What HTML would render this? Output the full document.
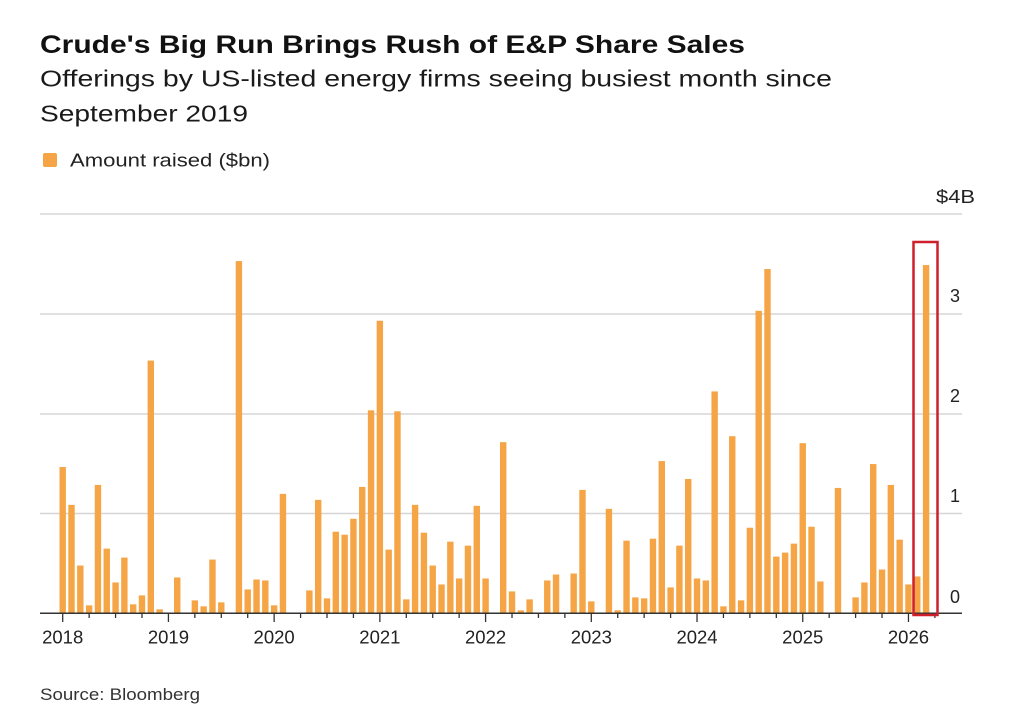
<!DOCTYPE html>
<html><head><meta charset="utf-8"><style>
html,body{margin:0;padding:0;background:#fff;}
svg{display:block;font-family:"Liberation Sans",sans-serif;}
</style></head><body>
<svg width="1024" height="721" viewBox="0 0 1024 721" xmlns="http://www.w3.org/2000/svg">
<text x="40" y="53" font-size="25" font-weight="bold" fill="#111" textLength="705" lengthAdjust="spacingAndGlyphs">Crude's Big Run Brings Rush of E&amp;P Share Sales</text>
<text x="40" y="86.5" font-size="23" fill="#1a1a1a" textLength="792" lengthAdjust="spacingAndGlyphs">Offerings by US-listed energy firms seeing busiest month since</text>
<text x="40" y="121.5" font-size="23" fill="#1a1a1a" textLength="208" lengthAdjust="spacingAndGlyphs">September 2019</text>
<rect x="43" y="153" width="14" height="14" rx="2" fill="#f5a545"/>
<text x="70" y="166.5" font-size="18" fill="#222" textLength="200" lengthAdjust="spacingAndGlyphs">Amount raised ($bn)</text>
<g stroke="#d6d6d6" stroke-width="1.5">
<line x1="40" y1="214" x2="962" y2="214"/>
<line x1="40" y1="314" x2="962" y2="314"/>
<line x1="40" y1="414" x2="962" y2="414"/>
<line x1="40" y1="513.5" x2="962" y2="513.5"/>
</g>
<g font-size="18" fill="#222">
<text x="936" y="203" textLength="39" lengthAdjust="spacingAndGlyphs">$4B</text>
<text x="950" y="302">3</text>
<text x="950" y="402">2</text>
<text x="950" y="502">1</text>
<text x="950" y="603">0</text>
</g>
<g fill="#f5a545" transform="translate(0,613.3) scale(1,-99.5)">
<rect x="59.5" y="0" width="6.4" height="1.47"/>
<rect x="68.31" y="0" width="6.4" height="1.09"/>
<rect x="77.12" y="0" width="6.4" height="0.48"/>
<rect x="85.93" y="0" width="6.4" height="0.08"/>
<rect x="94.74" y="0" width="6.4" height="1.29"/>
<rect x="103.55" y="0" width="6.4" height="0.65"/>
<rect x="112.36" y="0" width="6.4" height="0.31"/>
<rect x="121.17" y="0" width="6.4" height="0.56"/>
<rect x="129.98" y="0" width="6.4" height="0.09"/>
<rect x="138.79" y="0" width="6.4" height="0.18"/>
<rect x="147.6" y="0" width="6.4" height="2.54"/>
<rect x="156.41" y="0" width="6.4" height="0.04"/>
<rect x="174.03" y="0" width="6.4" height="0.36"/>
<rect x="191.65" y="0" width="6.4" height="0.13"/>
<rect x="200.46" y="0" width="6.4" height="0.07"/>
<rect x="209.27" y="0" width="6.4" height="0.54"/>
<rect x="218.08" y="0" width="6.4" height="0.11"/>
<rect x="235.7" y="0" width="6.4" height="3.54"/>
<rect x="244.51" y="0" width="6.4" height="0.24"/>
<rect x="253.32" y="0" width="6.4" height="0.34"/>
<rect x="262.13" y="0" width="6.4" height="0.33"/>
<rect x="270.94" y="0" width="6.4" height="0.08"/>
<rect x="279.75" y="0" width="6.4" height="1.2"/>
<rect x="306.18" y="0" width="6.4" height="0.23"/>
<rect x="314.99" y="0" width="6.4" height="1.14"/>
<rect x="323.8" y="0" width="6.4" height="0.15"/>
<rect x="332.61" y="0" width="6.4" height="0.82"/>
<rect x="341.42" y="0" width="6.4" height="0.79"/>
<rect x="350.23" y="0" width="6.4" height="0.95"/>
<rect x="359.04" y="0" width="6.4" height="1.27"/>
<rect x="367.85" y="0" width="6.4" height="2.04"/>
<rect x="376.66" y="0" width="6.4" height="2.94"/>
<rect x="385.47" y="0" width="6.4" height="0.64"/>
<rect x="394.28" y="0" width="6.4" height="2.03"/>
<rect x="403.09" y="0" width="6.4" height="0.14"/>
<rect x="411.9" y="0" width="6.4" height="1.09"/>
<rect x="420.71" y="0" width="6.4" height="0.81"/>
<rect x="429.52" y="0" width="6.4" height="0.48"/>
<rect x="438.33" y="0" width="6.4" height="0.29"/>
<rect x="447.14" y="0" width="6.4" height="0.72"/>
<rect x="455.95" y="0" width="6.4" height="0.35"/>
<rect x="464.76" y="0" width="6.4" height="0.68"/>
<rect x="473.57" y="0" width="6.4" height="1.08"/>
<rect x="482.38" y="0" width="6.4" height="0.35"/>
<rect x="500" y="0" width="6.4" height="1.72"/>
<rect x="508.81" y="0" width="6.4" height="0.22"/>
<rect x="517.62" y="0" width="6.4" height="0.03"/>
<rect x="526.43" y="0" width="6.4" height="0.14"/>
<rect x="544.05" y="0" width="6.4" height="0.33"/>
<rect x="552.86" y="0" width="6.4" height="0.39"/>
<rect x="570.48" y="0" width="6.4" height="0.4"/>
<rect x="579.29" y="0" width="6.4" height="1.24"/>
<rect x="588.1" y="0" width="6.4" height="0.12"/>
<rect x="605.72" y="0" width="6.4" height="1.05"/>
<rect x="614.53" y="0" width="6.4" height="0.03"/>
<rect x="623.34" y="0" width="6.4" height="0.73"/>
<rect x="632.15" y="0" width="6.4" height="0.16"/>
<rect x="640.96" y="0" width="6.4" height="0.15"/>
<rect x="649.77" y="0" width="6.4" height="0.75"/>
<rect x="658.58" y="0" width="6.4" height="1.53"/>
<rect x="667.39" y="0" width="6.4" height="0.26"/>
<rect x="676.2" y="0" width="6.4" height="0.68"/>
<rect x="685.01" y="0" width="6.4" height="1.35"/>
<rect x="693.82" y="0" width="6.4" height="0.35"/>
<rect x="702.63" y="0" width="6.4" height="0.33"/>
<rect x="711.44" y="0" width="6.4" height="2.23"/>
<rect x="720.25" y="0" width="6.4" height="0.07"/>
<rect x="729.06" y="0" width="6.4" height="1.78"/>
<rect x="737.87" y="0" width="6.4" height="0.13"/>
<rect x="746.68" y="0" width="6.4" height="0.86"/>
<rect x="755.49" y="0" width="6.4" height="3.04"/>
<rect x="764.3" y="0" width="6.4" height="3.46"/>
<rect x="773.11" y="0" width="6.4" height="0.57"/>
<rect x="781.92" y="0" width="6.4" height="0.61"/>
<rect x="790.73" y="0" width="6.4" height="0.7"/>
<rect x="799.54" y="0" width="6.4" height="1.71"/>
<rect x="808.35" y="0" width="6.4" height="0.87"/>
<rect x="817.16" y="0" width="6.4" height="0.32"/>
<rect x="834.78" y="0" width="6.4" height="1.26"/>
<rect x="852.4" y="0" width="6.4" height="0.16"/>
<rect x="861.21" y="0" width="6.4" height="0.31"/>
<rect x="870.02" y="0" width="6.4" height="1.5"/>
<rect x="878.83" y="0" width="6.4" height="0.44"/>
<rect x="887.64" y="0" width="6.4" height="1.29"/>
<rect x="896.45" y="0" width="6.4" height="0.74"/>
<rect x="905.26" y="0" width="6.4" height="0.29"/>
<rect x="914.07" y="0" width="6.4" height="0.37"/>
<rect x="922.88" y="0" width="6.4" height="3.5"/>
</g>
<line x1="40" y1="613.3" x2="962" y2="613.3" stroke="#333" stroke-width="1.5"/>
<g stroke="#333" stroke-width="1.3">
<line x1="62.7" y1="613" x2="62.7" y2="622"/>
<line x1="89.13" y1="613" x2="89.13" y2="618"/>
<line x1="115.56" y1="613" x2="115.56" y2="618"/>
<line x1="141.99" y1="613" x2="141.99" y2="618"/>
<line x1="168.42" y1="613" x2="168.42" y2="622"/>
<line x1="194.85" y1="613" x2="194.85" y2="618"/>
<line x1="221.28" y1="613" x2="221.28" y2="618"/>
<line x1="247.71" y1="613" x2="247.71" y2="618"/>
<line x1="274.14" y1="613" x2="274.14" y2="622"/>
<line x1="300.57" y1="613" x2="300.57" y2="618"/>
<line x1="327" y1="613" x2="327" y2="618"/>
<line x1="353.43" y1="613" x2="353.43" y2="618"/>
<line x1="379.86" y1="613" x2="379.86" y2="622"/>
<line x1="406.29" y1="613" x2="406.29" y2="618"/>
<line x1="432.72" y1="613" x2="432.72" y2="618"/>
<line x1="459.15" y1="613" x2="459.15" y2="618"/>
<line x1="485.58" y1="613" x2="485.58" y2="622"/>
<line x1="512.01" y1="613" x2="512.01" y2="618"/>
<line x1="538.44" y1="613" x2="538.44" y2="618"/>
<line x1="564.87" y1="613" x2="564.87" y2="618"/>
<line x1="591.3" y1="613" x2="591.3" y2="622"/>
<line x1="617.73" y1="613" x2="617.73" y2="618"/>
<line x1="644.16" y1="613" x2="644.16" y2="618"/>
<line x1="670.59" y1="613" x2="670.59" y2="618"/>
<line x1="697.02" y1="613" x2="697.02" y2="622"/>
<line x1="723.45" y1="613" x2="723.45" y2="618"/>
<line x1="749.88" y1="613" x2="749.88" y2="618"/>
<line x1="776.31" y1="613" x2="776.31" y2="618"/>
<line x1="802.74" y1="613" x2="802.74" y2="622"/>
<line x1="829.17" y1="613" x2="829.17" y2="618"/>
<line x1="855.6" y1="613" x2="855.6" y2="618"/>
<line x1="882.03" y1="613" x2="882.03" y2="618"/>
<line x1="908.46" y1="613" x2="908.46" y2="622"/>
<line x1="934.89" y1="613" x2="934.89" y2="618"/>
</g>
<g font-size="18.5" fill="#222" text-anchor="middle">
<text x="62.7" y="643.5">2018</text>
<text x="168.42" y="643.5">2019</text>
<text x="274.14" y="643.5">2020</text>
<text x="379.86" y="643.5">2021</text>
<text x="485.58" y="643.5">2022</text>
<text x="591.3" y="643.5">2023</text>
<text x="697.02" y="643.5">2024</text>
<text x="802.74" y="643.5">2025</text>
<text x="908.46" y="643.5">2026</text>
</g>
<rect x="913.5" y="242" width="24" height="373" fill="none" stroke="#cf1f2b" stroke-width="2.5"/>
<text x="40" y="700" font-size="17" fill="#333" textLength="160" lengthAdjust="spacingAndGlyphs">Source: Bloomberg</text>
</svg>
</body></html>
